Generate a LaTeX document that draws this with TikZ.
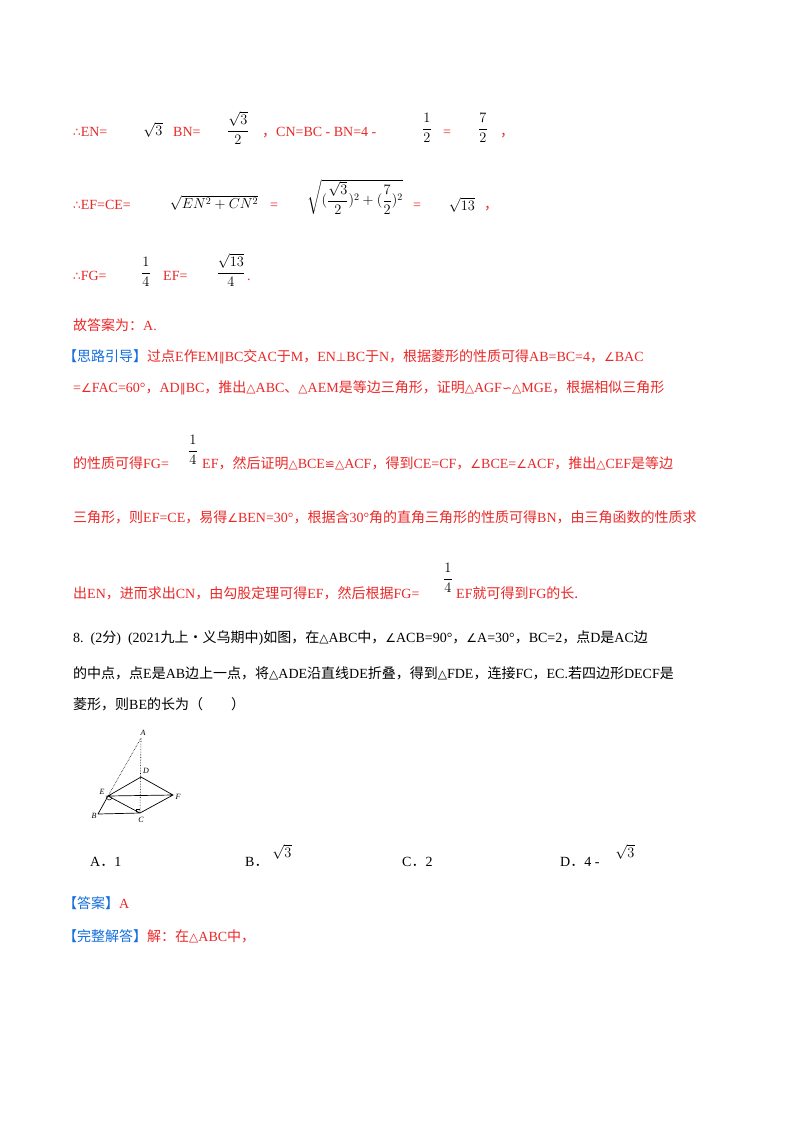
\documentclass[tikz,border=0pt]{standalone}
\usepackage{amsmath}
\usepackage{fontspec}
\setmainfont{Liberation Serif}
\newfontfamily\cjk{Noto Sans CJK SC}
\newfontfamily\sy{DejaVu Sans}
\newcommand\Sy[1]{{\sy\fontsize{12}{14}\selectfont #1}}
\definecolor{rd}{RGB}{235,40,40}
\definecolor{bl}{RGB}{20,110,220}
\begin{document}
\begin{tikzpicture}[x=1pt,y=-1pt,
  t/.style={anchor=base west,inner sep=0pt,font=\fontsize{14}{16}\selectfont},
  r/.style={t,text=rd},
  m/.style={anchor=center,inner sep=0pt,font=\fontsize{14}{16}\selectfont},
  lab/.style={inner sep=0pt,font=\fontsize{8}{9}\selectfont\itshape}]
\useasboundingbox[fill=white] (0,0) rectangle (800,1132);
% line 1
\node[r] (a1) at (73,136) {\Sy{∴}EN=};
\node[m] (a2) at (153,130) {$\sqrt{3}$};
\node[r] (a3) at (173,136) {BN=};
\node[m] (a4) at (238,128) {$\dfrac{\sqrt{3}}{2}$};
\node[r] (a5) at (262,136) {{\cjk ，}CN=BC - BN=4 -};
\node[m] (a6) at (427,128) {$\dfrac{1}{2}$};
\node[r] (a7) at (443,136) {=};
\node[m] (a8) at (483,128) {$\dfrac{7}{2}$};
\node[r] (a9) at (500,136) {\cjk ，};
% line 2
\node[r] (b1) at (73,209) {\Sy{∴}EF=CE=};
\node[m] (b2) at (214,203) {$\sqrt{EN^2+CN^2}$};
\node[r] (b3) at (270,209) {=};
\node[m] (b4) at (355,197) {$\sqrt{(\dfrac{\sqrt{3}}{2})^2+(\dfrac{7}{2})^2}$};
\node[r] (b5) at (413,209) {=};
\node[m] (b6) at (462,205) {$\sqrt{13}$};
\node[r] (b7) at (484,209) {\cjk ，};
% line 3
\node[r] (c1) at (73,280) {\Sy{∴}FG=};
\node[m] (c2) at (146,272) {$\dfrac{1}{4}$};
\node[r] (c3) at (163,280) {EF=};
\node[m] (c4) at (231,270) {$\dfrac{\sqrt{13}}{4}$};
\node[r] (c5) at (247,280) {.};
% answer
\node[r] (d1) at (73,330) {\cjk 故答案为：\rmfamily A.};
\node[t] (d2) at (63,361) {\textcolor{bl}{\cjk 【思路引导】}\textcolor{rd}{\cjk 过点\rmfamily E\cjk 作\rmfamily EM\Sy{∥}BC\cjk 交\rmfamily AC\cjk 于\rmfamily M\cjk ，\rmfamily EN\Sy{⊥}BC\cjk 于\rmfamily N\cjk ，根据菱形的性质可得\rmfamily AB=BC=4\cjk ，\rmfamily\Sy{∠}BAC}};
\node[r] (d3) at (73,392) {=\Sy{∠}FAC=60°\cjk ，\rmfamily AD\Sy{∥}BC\cjk ，推出\rmfamily \Sy{△}ABC\cjk 、\rmfamily \Sy{△}AEM\cjk 是等边三角形，证明\rmfamily \Sy{△}AGF\Sy{∽}\Sy{△}MGE\cjk ，根据相似三角形};
\node[r] (d4) at (73,468) {\cjk 的性质可得\rmfamily FG=};
\node[m] (d4f) at (193,450) {$\dfrac{1}{4}$};
\node[r] (d5) at (202,468) {EF\cjk ，然后证明\rmfamily \Sy{△}BCE\Sy{≌}\Sy{△}ACF\cjk ，得到\rmfamily CE=CF\cjk ，\rmfamily\Sy{∠}BCE=\Sy{∠}ACF\cjk ，推出\rmfamily \Sy{△}CEF\cjk 是等边};
\node[r] (d6) at (73,522) {\cjk 三角形，则\rmfamily EF=CE\cjk ，易得\rmfamily\Sy{∠}BEN=30°\cjk ，根据含\rmfamily 30°\cjk 角的直角三角形的性质可得\rmfamily BN\cjk ，由三角函数的性质求};
\node[r] (d7) at (73,598) {\cjk 出\rmfamily EN\cjk ，进而求出\rmfamily CN\cjk ，由勾股定理可得\rmfamily EF\cjk ，然后根据\rmfamily FG=};
\node[m] (d7f) at (448,578) {$\dfrac{1}{4}$};
\node[r] (d8) at (456,598) {EF\cjk 就可得到\rmfamily FG\cjk 的长.};
% question
\node[t] (q1) at (73,642) {8.\ \ (2\cjk 分\rmfamily )\ \ (2021\cjk 九上·义乌期中\rmfamily )\cjk 如图，在\rmfamily \Sy{△}ABC\cjk 中，\rmfamily\Sy{∠}ACB=90°\cjk ，\rmfamily\Sy{∠}A=30°\cjk ，\rmfamily BC=2\cjk ，点\rmfamily D\cjk 是\rmfamily AC\cjk 边};
\node[t] (q2) at (73,678) {\cjk 的中点，点\rmfamily E\cjk 是\rmfamily AB\cjk 边上一点，将\rmfamily \Sy{△}ADE\cjk 沿直线\rmfamily DE\cjk 折叠，得到\rmfamily \Sy{△}FDE\cjk ，连接\rmfamily FC\cjk ，\rmfamily EC.\cjk 若四边形\rmfamily DECF\cjk 是};
\node[t] (q3) at (73,709) {\cjk 菱形，则\rmfamily BE\cjk 的长为（\qquad）};
% figure
\coordinate (A) at (141,738);
\coordinate (D) at (141,777);
\coordinate (E) at (108,796);
\coordinate (F) at (173,795);
\coordinate (B) at (98,814);
\coordinate (C) at (140,813);
\draw[densely dotted,line width=0.6pt] (A) -- (E) (A) -- (C);
\draw[line width=0.7pt] (B) -- (E) -- (D) -- (F) -- (C) -- (E) -- (F) (B) -- (C);
\draw[line width=0.5pt] (E) ++(4,1) arc (0:200:3);
\draw[line width=0.5pt] (C) ++(-4,-1) -- ++(0,-3) -- ++(4,0);
\node[lab] (lA) at (143,733) {A};
\node[lab] (lD) at (146,771) {D};
\node[lab] (lE) at (102,792) {E};
\node[lab] (lF) at (178,797) {F};
\node[lab] (lB) at (94,816) {B};
\node[lab] (lC) at (141,820) {C};
% options
\node[t] (o1) at (90,866) {A\cjk ．\rmfamily 1};
\node[t] (o2) at (245,866) {B\cjk ．};
\node[m] (o2s) at (282,852) {$\sqrt{3}$};
\node[t] (o3) at (402,866) {C\cjk ．\rmfamily 2};
\node[t] (o4) at (560,866) {D\cjk ．\rmfamily 4 -};
\node[m] (o4s) at (625,852) {$\sqrt{3}$};
\node[t] (ans) at (63,908) {\textcolor{bl}{\cjk 【答案】}\textcolor{rd}{A}};
\node[t] (sol) at (63,941) {\textcolor{bl}{\cjk 【完整解答】}\textcolor{rd}{\cjk 解：在\rmfamily \Sy{△}ABC\cjk 中，}};
\end{tikzpicture}
\end{document}
